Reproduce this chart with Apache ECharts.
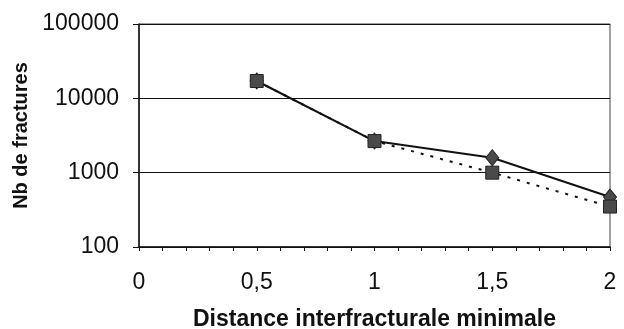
<!DOCTYPE html>
<html>
<head>
<meta charset="utf-8">
<script src="https://cdn.jsdelivr.net/npm/echarts@6/dist/echarts.min.js"></script>
<style>
  html, body { margin: 0; padding: 0; background: #fff; }
  #chart { width: 624px; height: 329px; }
</style>
</head>
<body>
<div id="chart"></div>
<script>
var distances = [0.5, 1, 1.5, 2];
var serieLosange = [17100, 2660, 1590, 470];   // trait plein, losanges
var serieCarre = [17100, 2660, 1000, 350];     // pointillé, carrés
var yTicks = [100, 1000, 10000, 100000];

var pairs = function (xs, ys) {
    var res = [];
    for (var i = 0; i < xs.length; i++) {
        res.push([xs[i], ys[i]]);
    }
    return res;
};

var chart = echarts.init(document.getElementById('chart'));
var option = {
    animation: false,
    backgroundColor: '#fff',
    textStyle: { fontFamily: 'Liberation Sans, Arial, sans-serif' },
    grid: {
        left: 139, right: 14, top: 24, bottom: 82,
        outerBoundsMode: 'none',
        containLabel: false,
        show: true,
        borderColor: '#444',
        borderWidth: 1
    },
    xAxis: {
        type: 'value',
        min: 0, max: 2, interval: 0.5,
        name: 'Distance interfracturale minimale',
        nameLocation: 'middle',
        nameGap: 61,
        nameTextStyle: { fontSize: 23, fontWeight: 'bold', color: '#111' },
        axisLine: { show: true, onZero: false, lineStyle: { color: '#111', width: 1.5 } },
        axisTick: { show: true, length: 4, lineStyle: { color: '#111' } },
        minorTick: { show: true, splitNumber: 5, length: 4, lineStyle: { color: '#111' } },
        splitLine: { show: false },
        axisLabel: {
            fontSize: 23, color: '#111', margin: 24,
            formatter: function (v) { return String(v).replace('.', ','); }
        }
    },
    yAxis: {
        type: 'log',
        logBase: 10,
        min: yTicks[0], max: yTicks[yTicks.length - 1],
        name: 'Nb de fractures',
        nameLocation: 'middle',
        nameGap: 108,
        nameTextStyle: { fontSize: 20, fontWeight: 'bold', color: '#111' },
        axisLine: { show: true, lineStyle: { color: '#111', width: 1.5 } },
        axisTick: { show: true, length: 6, lineStyle: { color: '#111' } },
        splitLine: { show: true, lineStyle: { color: '#111', width: 1 } },
        axisLabel: {
            fontSize: 23, color: '#111', margin: 20,
            formatter: function (v) { return String(Math.round(v)); }
        }
    },
    series: [
        {
            type: 'line',
            data: pairs(distances, serieLosange),
            symbol: 'diamond',
            symbolSize: [13, 16],
            itemStyle: { color: '#4a4a4a', borderColor: '#222', borderWidth: 1 },
            lineStyle: { color: '#111', width: 2 },
            z: 2
        },
        {
            type: 'line',
            data: pairs(distances, serieCarre),
            symbol: 'rect',
            symbolSize: 13,
            itemStyle: { color: '#4a4a4a', borderColor: '#222', borderWidth: 1 },
            lineStyle: { color: '#111', width: 2, type: [3, 7] },
            z: 3
        }
    ]
};
chart.setOption(option);
</script>
</body>
</html>
